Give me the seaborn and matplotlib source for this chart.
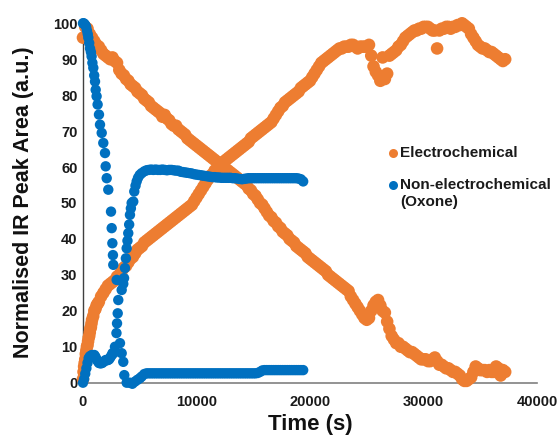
import matplotlib
matplotlib.use("Agg")
import matplotlib.pyplot as plt
from matplotlib.lines import Line2D
import seaborn as sns
import pandas as pd

# ---------------- data ----------------
# Electrochemical: sampling times (s)
t_echem = [
    0, 200, 400, 600, 800, 1000, 1200, 1400, 1600, 1800, 2000, 2200, 2400, 2600, 2800, 3000,
    3200, 3400, 3600, 3800, 4000, 4200, 4400, 4600, 4800, 5000, 5200, 5400, 5600, 5800, 6000,
    6200, 6400, 6600, 6800, 7000, 7200, 7400, 7600, 7800, 8000, 8200, 8400, 8600, 8800, 9000,
    9200, 9400, 9600, 9800, 10000, 10200, 10400, 10600, 10800, 11000, 11200, 11400, 11600,
    11800, 12000, 12200, 12400, 12600, 12800, 13000, 13200, 13400, 13600, 13800, 14000, 14200,
    14400, 14600, 14800, 15000, 15200, 15400, 15600, 15800, 16000, 16200, 16400, 16600, 16800,
    17000, 17200, 17400, 17600, 17800, 18000, 18200, 18400, 18600, 18800, 19000, 19200, 19400,
    19600, 19800, 20000, 20200, 20400, 20600, 20800, 21000, 21200, 21400, 21600, 21800, 22000,
    22200, 22400, 22600, 22800, 23000, 23200, 23400, 23600, 23800, 24000, 24200, 24400, 24600,
    24800, 25000, 25200, 25400, 25600, 25800, 26000, 26200, 26400, 26600, 26800, 27000, 27200,
    27400, 27600, 27800, 28000, 28200, 28400, 28600, 28800, 29000, 29200, 29400, 29600, 29800,
    30000, 30200, 30400, 30600, 30800, 31000, 31200, 31400, 31600, 31800, 32000, 32200, 32400,
    32600, 32800, 33000, 33200, 33400, 33600, 33800, 34000, 34200, 34400, 34600, 34800, 35000,
    35200, 35400, 35600, 35800, 36000, 36200, 36400, 36600, 36800, 37000, 37200,
]
# Electrochemical: decaying peak (normalised area)
echem_decay = [
    96, 99, 98.5, 97, 96, 95, 94, 93.5, 92.5, 91.5, 91, 90.5, 90, 90.5, 89.5, 89,
    87, 86, 85.5, 84.5, 84, 83, 82.5, 82, 81, 80.5, 80, 79, 78.5, 78, 77,
    76.5, 76, 75.5, 75, 74, 74.5, 73.5, 73, 72, 71.5, 71.5, 70.5, 70, 69.5, 69,
    68, 67.5, 67, 66.5, 66, 65.5, 65, 64.5, 64, 63.5, 63, 62.5, 62,
    61.5, 61, 60.5, 60, 59.5, 59, 58.5, 58, 57.5, 57, 56.5, 56, 55.5,
    55, 54, 53.5, 52.5, 52, 51, 50, 49.5, 48.5, 47.5, 46.5, 46, 45,
    44.5, 43.5, 43, 42, 41.5, 41, 40, 39.5, 39, 38, 37.5, 37, 36.5,
    36, 35, 34.5, 34, 33.5, 33, 32.5, 32, 31.5, 31, 30, 29.5, 29,
    28.5, 28, 27.5, 27, 26.5, 26, 25.5, 24, 23, 22, 21, 20, 19,
    18, 17.5, 18, 20, 21.5, 22.5, 23, 21.5, 20, 19.5, 17, 15, 13,
    12, 11, 11, 10, 10, 9.5, 9, 8.5, 8.5, 8, 7.5, 7, 6.5,
    6.5, 6.5, 6, 6, 6.5, 7, 6, 5, 5, 4.5, 4, 4, 3.5,
    3, 3, 2.5, 2, 1, 0.5, 0.5, 1, 1.5, 3, 4.5, 4, 3.5,
    3.5, 3.5, 3, 3.5, 3, 3, 4.5, 4, 2, 3.5, 3,
]
# extra readings in the steep early rise of the growing electrochemical peak
t_echem_early = [0, 50, 100, 150, 200, 250, 300, 350, 400, 450, 500, 550, 600, 650,
                 700, 750, 800, 900, 1000, 1100, 1200, 1300, 1400]
echem_growth_early = [1, 3, 4.5, 5.5, 6.5, 8, 9, 10, 10.5, 11.5, 12.5, 13, 14, 15,
                      15.5, 16.5, 17.5, 18.5, 20, 20.5, 21.5, 22, 22.5]
# Electrochemical: growing peak, from 1600 s on (same times as t_echem[8:])
echem_growth_late = [
    24, 25, 26, 27, 27.5, 28, 28.5, 29.5,
    30, 31, 32, 32.5, 33.5, 34.5, 35, 36, 37, 37.5, 38, 39, 39.5, 40, 40.5,
    41, 41.5, 42, 42.5, 43, 43.5, 44, 44.5, 45, 45.5, 46, 46.5, 47, 47.5, 48,
    48.5, 49, 49.5, 50.5, 51.5, 52.5, 53.5, 54.5, 55.5, 56.5, 57.5, 58, 59,
    59.5, 60, 61, 61.5, 62, 62.5, 63, 63.5, 64, 64.5, 65, 65.5, 66,
    66.5, 67, 68, 68.5, 69, 69.5, 70, 70.5, 71, 71.5, 72, 72.5, 73.5,
    74.5, 75.5, 76.5, 77, 78, 78.5, 79, 79.5, 80, 80.5, 81, 82, 82.5,
    83, 83.5, 84, 85, 86, 87, 88, 89, 89.5, 90, 90.5, 91, 91.5,
    92, 92.5, 93, 93, 93.5, 93.5, 93.5, 94, 94, 93.5, 93, 93.5, 93.5,
    93.5, 93.5, 94, 91, 88, 86.5, 85.5, 84, 90.5, 84.5, 86, 91, 91.5,
    92, 92.5, 93.5, 94, 95, 96, 96.5, 97, 97.5, 98, 98, 98.5, 98.5,
    99, 99, 99, 98.5, 98, 98, 93, 98, 98.5, 98.5, 99, 99, 98.5,
    99, 99, 99.5, 99.5, 100, 99.5, 99, 98.5, 97, 96, 95, 94, 93.5,
    93, 93, 92.5, 92, 92, 91.5, 91, 90.5, 90, 89.5, 90,
]

# Non-electrochemical (Oxone): decaying peak
t_oxone_decay = [
    0, 60, 130, 200, 280, 350, 420, 470, 550, 620, 700, 760, 830, 910, 990, 1060, 1120,
    1200, 1290, 1410, 1500, 1650, 1790, 1940, 2000, 2090, 2230, 2470, 2530, 2590, 2640,
    2670, 2970, 3260, 3410, 3550, 3640, 3850, 4100, 4350, 4580, 4800, 5000, 5170,
    5400, 5600, 5800, 6000, 6200, 6400, 6600, 6800, 7000, 7200, 7400, 7600, 7800, 8000,
    8200, 8400, 8600, 8800, 9000, 9200, 9400, 9600, 9800, 10000, 10200, 10400, 10600,
    10800, 11000, 11200, 11400, 11600, 11800, 12000, 12200, 12400, 12600, 12800, 13000,
    13200, 13400, 13600, 13800, 14000, 14200, 14400, 14600, 14800, 15000, 15200, 15400,
    15600, 15800, 16000, 16200, 16400, 16600, 16800, 17000, 17200, 17400, 17600, 17800,
    18000, 18200, 18400, 18600, 18800, 19000, 19200, 19400,
]
oxone_decay = [
    100, 100, 99.8, 99.5, 99, 98, 97, 96, 94.5, 93, 92, 90.8, 89, 87.6, 85.5, 83.8, 81.5,
    79.7, 77.4, 74.6, 71.8, 69.5, 66.7, 63.9, 60.2, 56.9, 53.7, 47.6, 43, 38.8, 35.5,
    32.8, 28.6, 11, 8.2, 5.8, 2.1, 0, 0, -0.3, 0.3, 0.8, 1.2, 1.7,
    2.4, 2.6, 2.6, 2.6, 2.6, 2.6, 2.6, 2.6, 2.6, 2.6, 2.6, 2.6, 2.6, 2.6,
    2.6, 2.6, 2.6, 2.6, 2.6, 2.6, 2.6, 2.6, 2.6, 2.6, 2.6, 2.6, 2.6,
    2.6, 2.6, 2.6, 2.6, 2.6, 2.6, 2.6, 2.6, 2.6, 2.6, 2.6, 2.6,
    2.6, 2.6, 2.6, 2.6, 2.6, 2.6, 2.6, 2.6, 2.6, 2.6, 2.6, 2.7,
    3.0, 3.4, 3.5, 3.5, 3.5, 3.5, 3.5, 3.5, 3.5, 3.5, 3.5, 3.5,
    3.5, 3.5, 3.5, 3.5, 3.5, 3.5, 3.5, 3.5,
]

# Non-electrochemical (Oxone): growing peak
t_oxone_growth = [
    0, 100, 200, 300, 400, 500, 600, 700, 800, 900, 1000, 1100, 1200, 1300, 1400, 1500,
    1600, 1700, 1800, 1900, 2000, 2100, 2200, 2300, 2400, 2500, 2600, 2700, 2820, 2950,
    3000, 3060, 3110, 3410, 3550, 3620, 3700, 3780, 3850, 3920, 3990, 4070, 4140, 4220,
    4290, 4430, 4520, 4630, 4730, 4850, 5000, 5170,
    5400, 5600, 5800, 6000, 6200, 6400, 6600, 6800, 7000, 7200, 7400, 7600, 7800, 8000,
    8200, 8400, 8600, 8800, 9000, 9200, 9400, 9600, 9800, 10000, 10200, 10400, 10600,
    10800, 11000, 11200, 11400, 11600, 11800, 12000, 12200, 12400, 12600, 12800, 13000,
    13200, 13400, 13600, 13800, 14000, 14200, 14400, 14600, 14800, 15000, 15200, 15400,
    15600, 15800, 16000, 16200, 16400, 16600, 16800, 17000, 17200, 17400, 17600, 17800,
    18000, 18200, 18400, 18600, 18800, 19000, 19200, 19400,
]
oxone_growth = [
    0, 1, 2.5, 4, 5.5, 6.8, 7.3, 7.5, 7.7, 7.5, 7.7, 7.2, 6.5, 6, 5.5, 5.4,
    5.4, 5.5, 5.8, 6, 6.3, 6.3, 6.3, 6.5, 7, 7.5, 8.2, 8.2, 10, 13.8,
    16.5, 19.3, 23, 25.8, 27.5, 29.1, 31.9, 34.6, 37.4, 39.5, 41.6, 44, 46.7, 48.5,
    50, 50.4, 53.2, 54.8, 56, 57, 57.8, 58.3,
    58.8, 59.1, 59.2, 59.3, 59.2, 59.3, 59.2, 59.2, 59.3, 59.2, 59.1, 59.2, 59.2, 59.1,
    59.0, 59.0, 58.7, 58.6, 58.5, 58.4, 58.3, 58.2, 58.0, 57.9, 57.8, 57.7, 57.6,
    57.5, 57.4, 57.3, 57.2, 57.2, 57.1, 57.1, 57.0, 57.0, 57.0, 57.0, 57.0,
    56.9, 56.9, 56.8, 56.7, 56.6, 56.7, 56.8, 56.9, 56.9, 56.9, 56.9, 56.9,
    56.9, 56.9, 56.9, 56.9, 56.9, 56.9, 56.9, 56.9, 56.9, 56.9, 56.9, 56.9,
    56.9, 56.9, 56.9, 56.9, 56.9, 56.8, 56.6, 56.0,
]

series_names = ["Electrochemical", "Non-electrochemical\n(Oxone)"]
colors = {"Electrochemical": "#ED7D31", "Non-electrochemical\n(Oxone)": "#0070C0"}
x_ticks = [0, 10000, 20000, 30000, 40000]
y_ticks = [0, 10, 20, 30, 40, 50, 60, 70, 80, 90, 100]

t_echem_growth = t_echem_early + t_echem[8:]
echem_growth = echem_growth_early + echem_growth_late

assert len(t_echem) == len(echem_decay)
assert len(t_echem_growth) == len(echem_growth)
assert len(t_oxone_decay) == len(oxone_decay)
assert len(t_oxone_growth) == len(oxone_growth)

df_echem = pd.concat([
    pd.DataFrame({"time": t_echem, "area": echem_decay, "series": series_names[0]}),
    pd.DataFrame({"time": t_echem_growth, "area": echem_growth, "series": series_names[0]}),
], ignore_index=True)
df_oxone = pd.concat([
    pd.DataFrame({"time": t_oxone_decay, "area": oxone_decay, "series": series_names[1]}),
    pd.DataFrame({"time": t_oxone_growth, "area": oxone_growth, "series": series_names[1]}),
], ignore_index=True)

# ---------------- plot ----------------
sns.set_theme(style="white")
plt.rcParams["font.family"] = ["Liberation Sans", "DejaVu Sans"]
plt.rcParams["font.weight"] = "bold"

fig = plt.figure(figsize=(5.58, 4.37), dpi=100)
ax = fig.add_axes([0.1487, 0.1243, 0.8136, 0.8224])

sns.scatterplot(data=df_echem, x="time", y="area", color=colors[series_names[0]],
                s=82, linewidth=0, edgecolor="none", legend=False, ax=ax,
                clip_on=False, zorder=3)
sns.scatterplot(data=df_oxone, x="time", y="area", color=colors[series_names[1]],
                s=56, linewidth=0, edgecolor="none", legend=False, ax=ax,
                clip_on=False, zorder=4)

ax.set_xlim(0, 40000)
ax.set_ylim(0, 100)
ax.set_xticks(x_ticks)
ax.set_yticks(y_ticks)
ax.set_xticklabels([str(v) for v in x_ticks])
ax.set_yticklabels([str(v) for v in y_ticks])
ax.tick_params(axis="both", length=0, labelsize=10.5, colors="#1a1a1a")
ax.tick_params(axis="x", pad=9)
ax.tick_params(axis="y", pad=4)
for lbl in ax.get_xticklabels() + ax.get_yticklabels():
    lbl.set_fontweight("bold")

for side in ["top", "right"]:
    ax.spines[side].set_visible(False)
ax.spines["left"].set_color("#404040")
ax.spines["left"].set_linewidth(1.0)
ax.spines["bottom"].set_color("#808080")
ax.spines["bottom"].set_linewidth(1.2)
ax.grid(False)

ax.set_xlabel("Time (s)", fontsize=16, fontweight="bold", color="#111111", va="center")
ax.xaxis.set_label_coords((310 - 83) / 454, (382.7 - 425) / 359.4)
ax.set_ylabel("Normalised IR Peak Area (a.u.)", fontsize=15.5, fontweight="bold",
              color="#111111", va="center")
ax.yaxis.set_label_coords((24 - 83) / 454, (382.7 - 202) / 359.4)

# legend (drawn manually to match the reference layout)
W, H = 558, 437
leg_items = [(series_names[0], 153), ("Non-electrochemical", 185)]
for (name, ypx), key in zip(leg_items, series_names):
    fig.add_artist(Line2D([393 / W], [1 - ypx / H], marker="o", markersize=6.5,
                          color=colors[key], markeredgewidth=0, linestyle="none",
                          transform=fig.transFigure))
    fig.text(400 / W, 1 - ypx / H, name, fontsize=11, fontweight="bold",
             color="#1a1a1a", ha="left", va="center")
fig.text(400 / W, 1 - 202 / H, "(Oxone)", fontsize=11, fontweight="bold",
         color="#1a1a1a", ha="left", va="center")

fig.savefig("out.png", dpi=100, facecolor="white")
